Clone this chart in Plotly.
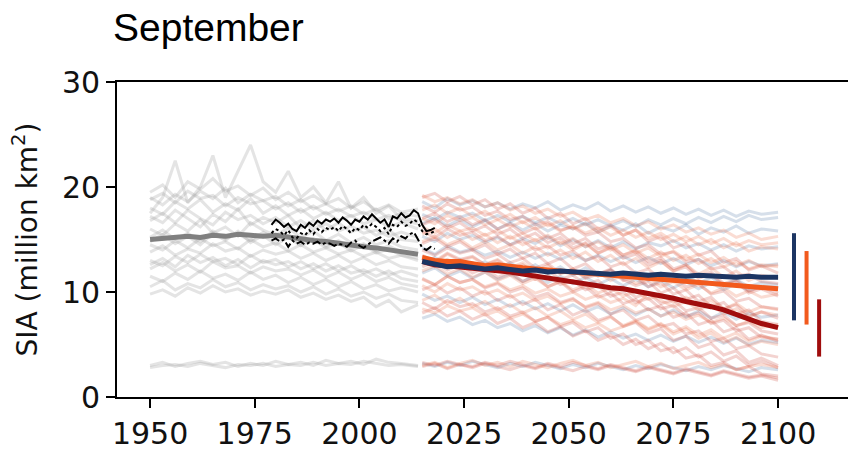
import plotly.graph_objects as go

# ---------------- data ----------------
hist_years = list(range(1950, 2012, 3)) + [2014]
fut_years = list(range(2015, 2098, 3)) + [2100]
obs_years = list(range(1979, 2019))

hist_members = [
    [19.5,20.2,19.0,20.5,19.8,20.8,19.6,20.1,19.2,19.9,18.8,19.5,18.6,19.2,18.4,18.9,18.0,18.6,17.8,18.3,17.6,17.9],
    [18.8,19.4,18.5,19.6,18.9,19.2,18.2,19.0,18.4,18.7,17.9,18.5,17.6,18.2,17.4,17.9,17.2,17.6,16.9,17.3,16.8,16.5],
    [17.5,19.0,22.5,18.5,20.0,23.0,19.0,21.5,24.0,20.5,19.5,21.5,19.0,20.0,18.5,20.5,18.0,19.0,17.5,18.2,17.0,16.8],
    [18.0,17.4,18.6,17.9,18.8,17.6,18.4,17.8,18.9,17.5,18.2,17.3,17.9,17.0,17.6,16.8,17.3,16.5,16.9,16.2,16.6,16.0],
    [16.8,17.5,16.6,17.8,17.0,16.4,17.6,16.9,17.3,16.5,17.1,16.2,16.8,16.0,16.5,15.8,16.3,15.6,15.9,15.3,15.7,15.2],
    [16.0,15.4,16.5,15.8,16.9,15.6,16.2,15.3,16.6,15.9,15.4,16.1,15.2,15.8,14.9,15.5,14.7,15.2,14.5,14.9,14.3,14.0],
    [15.2,15.9,15.0,15.6,14.8,15.8,15.1,15.5,14.9,15.7,15.0,15.3,14.6,15.1,14.4,14.9,14.2,14.6,13.9,14.4,13.8,13.6],
    [14.5,14.0,14.9,14.2,15.1,14.4,14.8,14.1,15.0,14.3,14.7,13.9,14.5,13.8,14.2,13.6,14.0,13.4,13.8,13.2,13.5,13.0],
    [13.8,14.4,13.5,14.1,13.7,14.6,13.9,14.2,13.4,14.0,13.6,13.9,13.2,13.7,13.0,13.5,12.8,13.3,12.6,13.0,12.4,12.2],
    [13.0,12.5,13.4,12.8,13.6,12.9,13.2,12.6,13.5,12.8,13.1,12.4,12.9,12.2,12.7,12.0,12.5,11.8,12.2,11.6,12.0,11.5],
    [12.2,12.8,12.0,12.6,11.9,12.9,12.3,12.5,11.8,12.4,12.0,12.2,11.6,12.1,11.4,11.9,11.2,11.7,11.0,11.4,10.8,10.5],
    [11.5,11.0,11.8,11.2,12.0,11.3,11.7,11.1,11.9,11.2,11.6,10.9,11.4,10.7,11.2,10.5,11.0,10.3,10.7,10.1,10.4,10.0],
    [10.5,11.1,10.2,10.8,10.4,11.2,10.5,10.9,10.2,10.7,10.3,10.6,10.0,10.5,9.8,10.3,9.6,10.0,9.4,9.8,9.2,9.0],
    [9.8,10.2,9.6,10.4,9.9,10.6,10.0,10.3,9.7,10.1,9.8,10.2,9.5,9.9,9.3,9.7,9.1,9.5,8.6,9.2,8.1,8.8],
    [17.2,16.6,17.8,17.0,16.2,17.4,16.7,17.9,16.4,17.1,16.6,17.3,16.1,16.8,15.9,16.6,15.7,16.2,15.4,15.9,15.0,14.8],
    [19.0,18.3,19.3,18.6,19.6,18.9,19.9,18.5,19.3,18.7,19.1,18.2,18.8,17.9,18.4,17.7,18.2,17.4,17.9,17.0,17.5,17.2],
    [14.8,15.5,14.6,15.3,14.5,15.6,14.9,15.8,14.7,15.4,14.5,15.2,14.4,15.0,14.2,14.7,13.9,14.5,13.7,14.1,13.5,13.2],
    [12.6,13.2,12.4,13.5,12.8,13.3,12.5,13.1,12.3,13.0,12.6,12.9,12.2,12.7,12.0,12.5,11.8,12.1,11.5,12.0,11.3,11.0],
    [3.0,3.3,2.9,3.2,3.4,3.1,3.3,2.9,3.2,3.0,3.4,3.1,3.3,3.0,3.5,3.2,3.4,3.1,3.6,3.3,3.2,3.0],
    [2.8,3.0,3.1,2.9,3.2,3.0,2.8,3.1,3.0,3.2,2.9,3.1,3.0,3.3,3.0,3.2,3.1,3.4,3.2,3.0,3.1,2.9],
]
hist_mean = [15.0,15.1,15.2,15.3,15.2,15.4,15.3,15.5,15.4,15.3,15.4,15.2,15.1,14.9,14.8,14.6,14.5,14.3,14.2,14.0,13.8,13.6]

obs_solid = [16.4,16.9,16.6,16.2,16.5,16.0,15.8,16.4,16.1,16.6,16.3,16.8,16.5,16.9,16.7,17.0,16.6,17.1,16.8,16.4,
             16.9,16.7,17.2,16.9,17.4,17.0,16.6,16.9,16.2,17.2,17.0,17.5,17.1,17.3,17.8,17.5,16.4,15.8,15.9,16.1]
obs_dotted = [15.6,16.0,15.8,15.4,15.9,15.2,15.1,15.6,15.4,15.9,15.5,16.0,15.7,16.1,15.9,16.2,15.8,16.3,16.0,15.6,
              16.1,15.9,16.4,16.1,16.5,16.2,15.8,16.1,15.5,16.4,16.2,16.7,16.3,16.5,16.9,16.6,15.8,15.5,15.6,15.8]
obs_dashdot = [14.9,15.1,14.8,15.0,14.3,14.9,14.6,14.8,14.5,14.7,14.6,14.8,14.5,14.7,14.6,14.4,14.6,14.5,14.3,14.7,
               14.9,14.4,14.2,14.5,14.8,15.0,15.2,14.9,14.6,15.1,14.8,15.3,15.1,15.5,15.7,15.0,14.2,14.0,14.3,14.1]

ssp126_members = [
    [18.6,18.0,18.9,18.3,18.7,18.1,18.5,17.9,18.4,18.0,18.6,17.8,18.3,17.9,18.5,17.7,18.2,17.6,18.1,17.5,18.0,17.4,17.9,17.3,17.8,17.2,17.7,17.4,17.6],
    [16.5,17.1,16.3,16.9,16.2,16.8,16.0,16.6,15.9,16.5,15.8,16.4,16.0,16.6,15.7,16.3,15.9,16.5,15.6,16.2,15.8,16.4,15.5,16.1,15.7,16.3,15.6,16.0,15.8],
    [14.2,13.6,14.4,13.8,14.1,13.5,13.9,13.3,13.8,13.2,13.7,13.1,13.6,13.0,13.5,12.9,13.4,12.8,13.3,12.7,13.2,12.6,13.1,12.5,13.0,12.4,12.9,12.5,12.7],
    [11.8,12.3,11.5,12.0,11.3,11.9,11.2,11.7,11.0,11.6,10.9,11.5,10.8,11.4,10.7,11.3,10.6,11.2,10.5,11.1,10.4,11.0,10.3,10.9,10.2,10.8,10.1,10.6,10.4],
    [9.8,9.2,9.6,9.0,9.5,8.8,9.3,8.6,9.1,8.4,8.9,8.2,8.8,8.1,8.6,7.9,8.5,7.8,8.4,7.7,8.3,7.6,8.2,7.5,8.1,7.4,8.0,7.6,7.8],
    [7.5,7.9,7.2,7.6,6.9,7.3,6.6,7.0,6.3,6.8,6.1,6.6,5.9,6.4,5.7,6.2,5.6,6.0,5.4,5.9,5.3,5.8,5.2,5.7,5.1,5.6,5.0,5.4,5.2],
    [3.2,2.9,3.3,3.0,3.4,3.1,2.8,3.2,2.9,3.3,3.0,2.7,3.1,2.8,3.2,2.9,2.6,3.0,2.7,3.1,2.8,2.5,2.9,2.6,3.0,2.7,2.4,2.8,2.6],
    [15.3,14.8,15.6,15.0,15.4,14.7,15.2,14.5,15.1,14.6,15.3,14.4,15.0,14.3,14.9,14.2,14.8,14.1,14.7,14.4,14.9,14.2,14.6,14.0,14.5,13.9,14.4,14.1,14.3],
    [12.8,13.3,12.6,13.1,12.4,12.9,12.2,12.8,12.0,12.6,11.8,12.4,11.6,12.3,11.5,12.1,11.3,11.9,11.1,11.8,11.0,11.6,10.8,11.4,10.6,11.2,10.5,10.9,10.7],
    [17.4,16.9,17.6,17.1,17.5,16.8,17.3,16.7,17.2,16.6,17.1,16.5,17.0,16.4,16.9,16.3,16.8,16.2,16.9,16.4,17.0,16.5,17.1,16.6,17.2,16.7,17.3,16.9,17.1],
]
ssp245_members = [
    [19.2,18.6,19.0,18.4,18.8,18.1,18.5,17.8,18.2,17.5,17.9,17.2,17.6,16.9,17.3,16.6,17.0,16.3,16.7,16.0,16.4,15.7,16.1,15.5,15.9,15.2,15.6,15.0,15.3],
    [17.8,18.3,17.5,18.0,17.2,17.7,16.9,17.4,16.6,17.1,16.3,16.8,16.0,16.5,15.7,16.2,15.4,15.9,15.1,15.6,14.8,15.3,14.5,15.0,14.2,14.7,13.9,14.3,14.1],
    [16.2,15.6,16.4,15.8,16.1,15.4,15.9,15.1,15.6,14.9,15.4,14.6,15.1,14.3,14.8,14.0,14.5,13.7,14.2,13.4,13.9,13.1,13.6,12.8,13.3,12.5,13.0,12.4,12.6],
    [14.8,15.3,14.5,15.0,14.2,14.8,14.0,14.5,13.7,14.3,13.5,14.0,13.2,13.8,12.9,13.5,12.6,13.2,12.3,12.9,12.0,12.6,11.7,12.3,11.4,12.0,11.1,11.6,11.3],
    [13.4,12.8,13.6,13.0,13.3,12.6,13.1,12.3,12.8,12.0,12.5,11.7,12.2,11.4,11.9,11.1,11.6,10.8,11.3,10.5,11.0,10.2,10.7,9.9,10.4,9.6,10.1,9.5,9.8],
    [12.0,12.5,11.7,12.2,11.4,11.9,11.1,11.6,10.8,11.3,10.5,11.0,10.2,10.7,9.9,10.4,9.6,10.1,9.3,9.8,9.0,9.5,8.7,9.2,8.4,8.9,8.1,8.6,8.3],
    [10.6,10.0,10.8,10.2,10.5,9.8,10.2,9.5,9.9,9.2,9.6,8.9,9.3,8.6,9.0,8.3,8.7,8.0,8.4,7.7,8.1,7.4,7.8,7.1,7.5,6.8,7.2,6.6,6.9],
    [9.2,9.7,8.9,9.4,8.6,9.1,8.3,8.8,8.0,8.5,7.7,8.2,7.4,7.9,7.1,7.6,6.8,7.3,6.5,7.0,6.2,6.7,5.9,6.4,5.6,6.1,5.3,5.8,5.5],
    [3.0,3.3,2.8,3.2,3.5,3.0,3.3,2.9,3.4,3.1,2.8,3.2,3.5,3.0,3.3,2.8,3.1,3.4,2.9,3.2,2.7,3.0,3.3,2.8,3.1,2.6,2.9,3.1,2.8],
    [17.0,16.5,17.3,16.8,17.1,16.4,16.9,16.2,16.7,16.0,16.5,15.8,16.3,15.6,16.1,15.4,15.9,15.2,15.7,15.0,15.5,14.8,15.3,14.6,15.1,14.4,14.9,14.5,14.7],
    [11.2,10.7,11.5,10.9,11.2,10.5,10.9,10.2,10.6,9.9,10.3,9.6,10.0,9.3,9.7,9.0,9.4,8.7,9.9,9.2,8.6,9.1,8.3,8.8,7.9,8.4,7.6,8.1,7.8],
    [15.5,16.0,15.2,15.8,15.0,15.5,14.7,15.3,14.5,15.0,14.2,14.8,14.0,14.6,13.7,14.3,13.5,14.0,13.2,13.8,13.0,13.5,12.7,13.2,12.4,12.9,12.2,12.6,12.4],
    [8.4,8.0,8.7,8.2,8.5,7.8,8.2,7.5,7.9,7.2,7.6,6.9,7.3,6.6,7.0,6.3,6.7,7.2,6.4,6.9,6.0,6.5,5.6,6.1,5.2,5.7,4.9,5.3,5.0],
]
ssp585_members = [
    [19.0,19.4,18.6,19.1,18.3,18.8,17.9,18.4,17.5,18.0,17.0,17.5,16.5,17.0,16.0,16.4,15.4,15.9,14.8,15.3,14.2,14.6,13.5,13.9,12.8,13.2,12.1,12.5,11.8],
    [18.2,17.6,18.4,17.8,18.1,17.3,17.7,16.9,17.2,16.4,16.7,15.9,16.2,15.4,15.7,14.8,15.1,14.2,14.5,13.6,13.8,12.9,13.1,12.2,12.4,11.5,11.7,11.0,10.8],
    [17.0,17.5,16.7,17.2,16.4,16.9,16.0,16.5,15.6,16.1,15.1,15.6,14.6,15.1,14.1,14.5,13.5,13.9,12.9,13.3,12.2,12.6,11.5,11.9,10.8,11.2,10.1,10.5,9.9],
    [15.8,15.2,16.0,15.4,15.7,14.9,15.3,14.5,14.9,14.0,14.4,13.5,13.9,13.0,13.4,12.4,12.8,11.8,12.2,11.2,11.5,10.5,10.8,9.8,10.1,9.1,9.4,8.6,8.4],
    [14.6,15.1,14.3,14.8,14.0,14.5,13.6,14.1,13.2,13.7,12.7,13.2,12.2,12.7,11.7,12.1,11.1,11.5,10.5,10.9,9.8,10.2,9.1,9.5,8.4,8.8,7.7,8.1,7.5],
    [13.5,12.9,13.7,13.1,13.4,12.6,13.0,12.2,12.6,11.7,12.1,11.2,11.6,10.7,11.1,10.1,10.5,9.5,9.9,8.9,9.2,8.2,8.5,7.5,7.8,6.8,7.1,6.3,6.0],
    [12.4,12.9,12.1,12.6,11.8,12.3,11.4,11.9,11.0,11.5,10.5,11.0,10.0,10.5,9.5,9.9,8.9,9.3,8.3,8.7,7.6,8.0,6.9,7.3,6.2,6.6,5.5,5.9,5.3],
    [11.3,10.7,11.5,10.9,11.2,10.4,10.8,10.0,10.4,9.5,9.9,9.0,9.4,8.5,8.9,7.9,8.3,7.3,7.7,6.7,7.0,6.0,6.3,5.3,5.6,4.6,4.9,4.1,3.8],
    [10.2,10.7,9.9,10.4,9.6,10.1,9.2,9.7,8.8,9.3,8.3,8.8,7.8,8.3,7.3,7.7,6.7,7.1,6.1,6.5,5.4,5.8,4.7,5.1,4.0,4.4,3.3,3.7,3.0],
    [9.0,8.4,9.2,8.6,8.9,8.1,8.5,7.7,8.1,7.2,7.6,6.7,7.1,6.2,6.6,5.6,6.0,5.0,5.4,4.4,4.7,3.7,4.0,3.0,3.3,2.6,2.9,2.2,2.0],
    [3.3,3.0,3.4,3.1,2.9,3.3,3.0,3.4,3.1,2.8,3.2,2.9,3.3,3.0,2.7,3.1,2.8,2.5,2.9,2.6,2.3,2.7,2.4,2.1,2.5,2.2,1.9,2.1,1.8],
    [16.4,16.9,16.1,16.6,15.8,16.3,15.5,16.0,15.1,15.6,14.7,15.2,14.2,14.7,13.7,14.2,13.2,13.6,12.6,13.0,12.0,12.4,11.3,11.7,10.6,11.0,9.9,10.3,9.6],
    [12.9,12.4,13.1,12.5,12.8,12.0,12.4,11.6,12.0,11.2,11.6,10.7,11.1,10.2,10.6,9.6,10.0,9.0,9.4,8.4,8.7,7.7,8.0,7.0,7.3,6.3,6.6,5.7,5.5],
    [14.0,13.5,14.2,13.7,14.0,13.2,13.6,12.8,13.2,12.3,12.7,11.8,12.2,11.3,11.7,12.2,11.2,10.6,11.0,9.9,10.4,9.3,9.7,8.6,9.0,7.9,8.3,7.2,6.9],
    [8.0,8.5,7.7,8.2,7.4,7.9,7.0,7.5,6.6,7.1,6.2,6.7,5.8,6.3,5.4,5.9,5.0,5.5,4.6,5.1,4.2,4.7,3.8,4.3,3.4,3.9,3.0,3.4,2.8],
    [2.9,3.2,2.7,3.1,2.8,3.2,2.9,2.6,3.0,2.7,3.1,2.8,2.5,2.9,2.6,3.0,2.7,2.4,2.8,2.5,2.2,2.6,2.3,2.0,2.4,2.1,1.8,2.0,1.6],
]

ssp126_mean = [12.9,12.6,12.4,12.5,12.3,12.2,12.3,12.1,12.0,12.1,11.9,12.0,11.9,11.8,11.8,11.7,11.8,11.7,11.6,11.7,11.6,11.5,11.6,11.5,11.5,11.4,11.5,11.4,11.4]
ssp245_mean = [13.3,13.0,12.9,12.9,12.7,12.5,12.6,12.4,12.3,12.2,12.1,12.0,11.9,11.9,11.7,11.6,11.6,11.5,11.3,11.3,11.2,11.1,11.0,10.9,10.8,10.7,10.6,10.4,10.3]
ssp585_mean = [12.9,12.6,12.5,12.4,12.3,12.2,12.0,11.9,11.7,11.5,11.3,11.2,11.0,10.8,10.6,10.4,10.3,10.1,9.9,9.7,9.4,9.1,8.9,8.6,8.3,7.9,7.5,7.0,6.6]

# spread bars at the right: [x position (year), low, high]
bar_x = [2103.8, 2106.8, 2109.8]
bar_low = [7.3, 6.9, 3.85]
bar_high = [15.6, 13.9, 9.3]

# ---------------- styles ----------------
C_GRAY_FAINT = "rgba(150,150,150,0.26)"
C_126_FAINT = "rgba(70,110,160,0.22)"
C_245_FAINT = "rgba(235,110,70,0.24)"
C_585_FAINT = "rgba(200,55,40,0.22)"
C_126 = "#1c3563"
C_245 = "#f25a1d"
C_585 = "#a00d0d"

fig = go.Figure()

for m in hist_members:
    fig.add_trace(go.Scatter(x=hist_years, y=m, mode="lines",
                             line=dict(color=C_GRAY_FAINT, width=3), hoverinfo="skip"))
for members, col in [(ssp126_members, C_126_FAINT), (ssp585_members, C_585_FAINT), (ssp245_members, C_245_FAINT)]:
    for m in members:
        fig.add_trace(go.Scatter(x=fut_years, y=m, mode="lines",
                                 line=dict(color=col, width=3), hoverinfo="skip"))

fig.add_trace(go.Scatter(x=hist_years, y=hist_mean, mode="lines",
                         line=dict(color="#808080", width=5)))

for y, dash in [(obs_solid, "solid"), (obs_dotted, "dot"), (obs_dashdot, "dashdot")]:
    fig.add_trace(go.Scatter(x=obs_years, y=y, mode="lines",
                             line=dict(color="black", width=2, dash=dash)))

for y, col in [(ssp585_mean, C_585), (ssp245_mean, C_245), (ssp126_mean, C_126)]:
    fig.add_trace(go.Scatter(x=fut_years, y=y, mode="lines", line=dict(color=col, width=5)))

for bx, lo, hi, col in zip(bar_x, bar_low, bar_high, [C_126, C_245, C_585]):
    fig.add_trace(go.Scatter(x=[bx, bx], y=[lo, hi], mode="lines", line=dict(color=col, width=4)))

fig.update_layout(
    width=848, height=451,
    margin=dict(l=117, r=0, t=82, b=47),
    paper_bgcolor="white", plot_bgcolor="white",
    showlegend=False,
    title=dict(text="September", x=113 / 848, xref="container", xanchor="left",
               y=1 - 27 / 451, yref="container", yanchor="middle",
               font=dict(family="Liberation Sans, Arial", size=39, color="black")),
    font=dict(family="DejaVu Sans", color="#111"),
)
fig.update_xaxes(range=[1942.1, 2116.7], tickvals=[1950, 1975, 2000, 2025, 2050, 2075, 2100],
                 showgrid=False, zeroline=False, showline=True, mirror=True,
                 linecolor="black", linewidth=1.8, ticks="outside", ticklen=9, tickwidth=1.5,
                 tickcolor="black", tickfont=dict(size=30, family="DejaVu Sans", color="#111"))
fig.update_yaxes(range=[0, 30], tickvals=[0, 10, 20, 30],
                 showgrid=False, zeroline=False, showline=True, mirror=False,
                 linecolor="black", linewidth=1.8, ticks="outside", ticklen=9, tickwidth=1.5,
                 tickcolor="black", tickfont=dict(size=30, family="DejaVu Sans", color="#111"),
                 title=dict(text="SIA (million km<sup>2</sup>)", standoff=16,
                            font=dict(size=28, family="DejaVu Sans", color="#111")))

fig.write_html("out.html")
